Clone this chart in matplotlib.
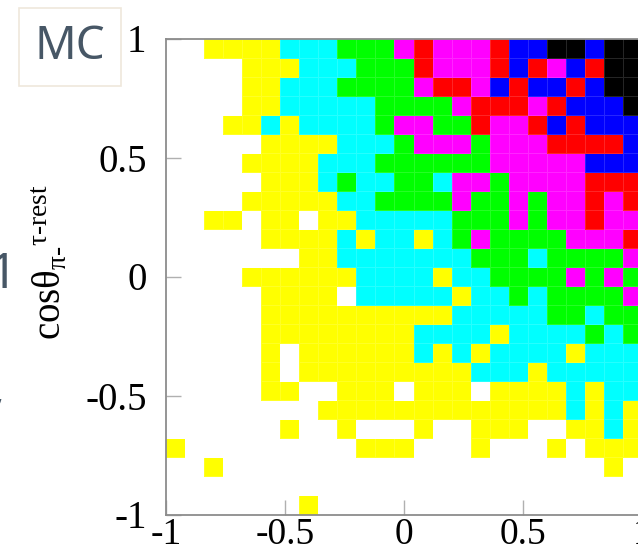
import numpy as np
import matplotlib.pyplot as plt
from matplotlib.colors import ListedColormap, BoundaryNorm

plt.rcParams['mathtext.fontset'] = 'custom'
plt.rcParams['mathtext.rm'] = 'Liberation Serif'
plt.rcParams['mathtext.it'] = 'Liberation Serif:italic'

# colour level of each bin, top row is cos(theta_pi) = 1
# . empty, Y yellow, C cyan, G green, M magenta, R red, B blue, K black
level_rows = [
    "..YYYYCCCGGGMRMMMRBBKKBKK",
    "....YYYCCCGGGRMMMRBRMBRKK",
    "....YYCCCGGGGMRRMBRBBRBKK",
    "....YYCCCCCGGGGMRRRMRBBBK",
    "...YYCYCCCCGMMGGRMMRBRBBB",
    ".....YYYYCCCGMMMGMMMRRRRB",
    "....YYYYCCCGGGGGGMMMMMBBB",
    ".....YYYCGCCGGCMMGMMMMRRR",
    "....YYYYYCCGGGGMGGMGMMRMR",
    "..YY.YY.YYCCCCCGGGMGMMRMM",
    ".....YYYYCYCCYCGMGGGGMMMR",
    ".......YYCCCCCCCGGGCGGGGM",
    "....YYYYYYCCCCYCCGGGGMGMG",
    ".....YYYY.CCCCCYCCGCGGGGM",
    ".....YYYYYYYYYYCCCCCGGCGG",
    ".....YYYYYYYYCCCCYCCCCGCG",
    ".....Y.YYYYYYCYCYCCCCYCCC",
    ".....Y.YYYYYYYYYCCCYCCCCC",
    ".....YY..YYY.YYY.YYYYCYCC",
    "........YYYYYYYYYYYYYCYCY",
    "......Y..Y...Y..YYY..YYCY",
    "Y.........YYY...Y...Y.YYY",
    "..Y....................Y.",
    ".........................",
    ".......Y.................",
]
level_keys = ".YCGMRBK"
level_colors = ["#ffffff", "#ffff00", "#00ffff", "#00ff00",
                "#ff00ff", "#ff0000", "#0000ff", "#000000"]

tick_values = [-1, -0.5, 0, 0.5, 1]
tick_labels = ["-1", "-0.5", "0", "0.5", "1"]

x_edges = np.linspace(-1, 1, 26)
y_edges = np.linspace(-1, 1, 26)
levels = np.array([[level_keys.index(c) for c in row] for row in level_rows])[::-1]

fig = plt.figure(figsize=(6.38, 5.5), dpi=100)
ax = fig.add_axes([166 / 638, 35.5 / 550, 476 / 638, 476 / 550])

cmap = ListedColormap(level_colors)
norm = BoundaryNorm(np.arange(-0.5, len(level_colors)), cmap.N)
ax.pcolormesh(x_edges, y_edges, levels, cmap=cmap, norm=norm,
              edgecolors=(1, 1, 1, 0.15), linewidth=0.6)

ax.set_xlim(-1, 1)
ax.set_ylim(-1, 1)
ax.set_xticks(tick_values)
ax.set_xticklabels(tick_labels, family='Liberation Serif', fontsize=27)
ax.set_yticks(tick_values)
ax.set_yticklabels(tick_labels, family='Liberation Serif', fontsize=28)
ax.tick_params(direction='in', length=11, width=1.0, color='#b0b0b0')
ax.tick_params(axis='x', pad=2)
ax.tick_params(axis='y', pad=14)
for s in ax.spines.values():
    s.set_color('#8c8c8c')
    s.set_linewidth(1.3)

fig.text(50 / 638, 1 - 262 / 550,
         r'$\mathrm{cos\theta_{\pi\text{-}}{}^{\tau\text{-rest}}}$',
         rotation=90, ha='center', va='center', fontsize=28)

# "MC" tag in the corner
fig.text(70 / 638, 1 - 47 / 550, 'MC', family='Noto Sans', fontsize=33,
         color='#475766', ha='center', va='center',
         bbox=dict(boxstyle='square,pad=0.35', facecolor='white',
                   edgecolor='#efe8dc', linewidth=1.2))
fig.text(17 / 638, 1 - 288 / 550, '1', family='Noto Sans', fontsize=36,
         color='#475766', ha='right', va='baseline')
fig.text(4 / 638, 1 - 403 / 550, ',', family='Noto Sans', fontsize=24,
         color='#475766', ha='right', va='baseline')

fig.savefig('out.png', dpi=100)
